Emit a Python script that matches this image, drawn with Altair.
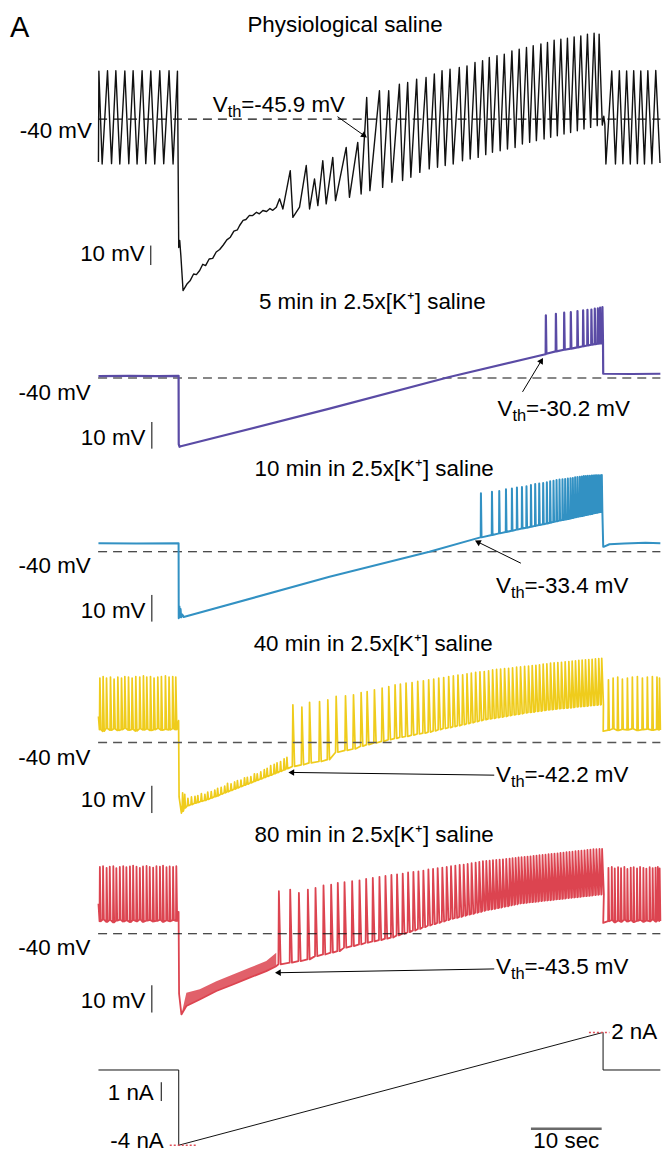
import altair as alt
import pandas as pd

FONT = "Liberation Sans"
FS = 22.4
X_DOMAIN = [-24.14, 68.19]          # seconds (0 = start of the current ramp)
PANEL_W = 654

BLACK, PURPLE, BLUE, YELLOW, RED = "#111111", "#5a4ba5", "#3291c3", "#efcc1c", "#dc4450"

# ---------------- Trace 1: physiological saline (mV) ----------------
P1_PRE_T = [-11.35, -11.29, -10.83, -10.07, -9.50, -8.89, -8.33, -7.62, -7.06, -6.45,
            -5.89, -5.18, -4.66, -3.95, -3.39, -2.68, -2.12, -1.37, -0.80, -0.18]
P1_PRE_V = [-62.0, -15.3, -63.0, -15.1, -62.8, -15.1, -63.0, -15.2, -62.9, -15.1,
            -63.0, -15.1, -62.8, -15.2, -63.0, -15.1, -62.9, -15.1, -63.0, -15.3]
P1_HYP_T = [0.00, 0.14, 0.30, 0.61, 1.2, 1.6, 2.1, 2.5, 2.96, 3.4, 3.8, 4.3, 4.8, 5.3, 5.79,
            6.3, 6.8, 7.3, 7.8, 8.3, 8.61, 9.1, 9.5, 10.0, 10.45, 11.0, 11.4, 11.9, 12.42,
            12.9, 13.3, 13.8]
P1_HYP_V = [-105.9, -102.3, -110.0, -128.0, -124.5, -123.0, -119.5, -119.8, -117.7, -114.5,
            -115.2, -111.8, -111.5, -108.2, -106.9, -104.6, -102.0, -100.6, -97.5, -96.8,
            -94.6, -92.0, -91.5, -89.4, -89.5, -87.8, -88.6, -86.9, -87.4, -85.9, -86.8, -85.2]
P1_SUB_T = [14.26, 14.73, 15.77, 16.14, 17.08, 18.03, 18.50, 19.20, 19.67, 20.37, 20.85,
            21.78, 22.17, 23.68, 24.14, 25.31, 25.79]
P1_SUB_V = [-80.9, -86.1, -66.4, -90.4, -85.2, -63.8, -86.1, -70.7, -84.4, -61.3, -83.5,
            -59.6, -81.8, -54.5, -80.1, -51.9, -78.4]
P1_SPK_T = [26.58, 28.38, 29.69, 31.20, 32.37, 33.64, 34.97, 36.14, 37.23, 38.36, 39.67,
            40.76, 41.89, 42.96, 43.91, 45.00, 46.03, 47.11, 48.14, 49.17, 50.12, 51.21,
            52.14, 53.08, 54.03, 54.96, 55.91, 56.85, 57.79, 58.73, 59.44]
P1_SPK_PEAK = [-28.8, -25.4, -25.4, -22.0, -21.1, -19.4, -18.6, -16.8, -15.1, -14.3, -13.4,
               -12.6, -10.9, -10.0, -8.3, -7.4, -6.6, -4.9, -4.0, -3.2, -2.3, -1.4, -0.6,
               0.6, 1.1, 1.6, 2.3, 2.8, 3.7, 4.2, 3.7]
P1_SPK_TROUGH = [-76.7, -75.0, -72.4, -71.5, -69.8, -67.3, -65.5, -64.7, -63.8, -63.0, -61.3,
                 -60.4, -59.6, -58.2, -57.0, -56.2, -55.3, -54.5, -52.7, -51.9, -51.0, -50.2,
                 -49.3, -48.5, -47.6, -46.8, -45.9, -45.0, -44.2, -43.3, -43.0]
P1_POST_T = [60.10, 60.25, 60.40, 61.23, 61.75, 62.30, 62.80, 63.33, 63.85, 64.33, 64.85,
             65.33, 65.85, 66.33, 66.90, 67.45, 68.05]
P1_POST_V = [-38.5, -42.5, -63.0, -15.2, -63.0, -15.1, -62.9, -15.2, -63.0, -15.1, -62.8,
             -15.2, -63.0, -15.1, -62.9, -15.0, -62.5]

# ---------------- Trace 2: 5 min in 2.5x[K+] (mV) ----------------
P2_PRE_T = [-11.35, -7.0, -3.0, -0.02]
P2_PRE_V = [-39.3, -39.2, -39.3, -39.2]
P2_RAMP_T = [0.00, 0.12, 0.30, 21.32, 38.26, 51.85]
P2_RAMP_V = [-64.8, -65.8, -65.6, -51.5, -39.6, -31.1]
P2_SPK_T = [51.91, 53.33, 54.50, 55.44, 56.38, 57.18, 57.79, 58.35, 58.83, 59.26, 59.58, 59.91]
P2_SPK_PEAK = [-16.5, -15.9, -15.5, -15.3, -14.9, -14.6, -14.4, -14.3, -14.0, -13.9, -13.6, -13.4]
P2_SPK_TROUGH = [-30.9, -30.0, -29.4, -29.0, -28.5, -28.1, -27.8, -27.5, -27.3, -27.1, -27.0, -26.9]
P2_POST_T = [60.02, 64.0, 68.1]
P2_POST_V = [-38.4, -38.5, -38.4]

# ---------------- Trace 3: 10 min in 2.5x[K+] (mV) ----------------
P3_PRE_T = [-11.35, -6.0, -0.02]
P3_PRE_V = [-36.85, -36.9, -36.85]
P3_RAMP_T = [0.00, 0.10, 0.18, 0.26, 0.35, 0.50, 0.70, 21.32, 35.44, 42.65]
P3_RAMP_V = [-64.9, -60.5, -64.5, -61.5, -64.6, -63.5, -64.5, -49.4, -40.0, -34.6]
P3_SPK_T = [42.73, 44.29, 45.32, 46.27, 47.11, 47.82, 48.53, 49.17, 49.80, 50.40, 50.97,
            51.53, 52.05, 52.52, 52.99, 53.42, 53.84, 54.26, 54.64, 55.02, 55.39, 55.72,
            56.05, 56.38, 56.71, 57.00, 57.28, 57.56, 57.84, 58.13, 58.41, 58.64, 58.87,
            59.11, 59.34, 59.58, 59.82]
P3_SPK_PEAK = [-18.1, -17.5, -17.2, -16.6, -16.3, -15.9, -15.7, -15.4, -15.0, -14.6, -14.4,
               -14.2, -13.9, -13.6, -13.4, -13.1, -12.9, -12.8, -12.7, -12.5, -12.4, -12.3,
               -12.1, -12.0, -11.9, -11.8, -11.6, -11.6, -11.5, -11.5, -11.4, -11.4, -11.3,
               -11.3, -11.3, -11.3, -11.2]
P3_SPK_TROUGH = [-34.6, -33.7, -33.1, -32.6, -32.1, -31.7, -31.3, -31.0, -30.6, -30.3, -30.0,
                 -29.7, -29.4, -29.1, -28.8, -28.6, -28.3, -28.1, -27.9, -27.7, -27.5, -27.3,
                 -27.1, -26.9, -26.7, -26.6, -26.4, -26.2, -26.1, -25.9, -25.8, -25.6, -25.5,
                 -25.4, -25.2, -25.1, -25.0]
P3_POST_T = [60.02, 60.15, 60.9, 63.0, 66.0, 68.1]
P3_POST_V = [-38.1, -38.1, -37.2, -36.9, -36.6, -36.8]

# ---------------- Trace 4: 40 min in 2.5x[K+] (mV) ----------------
P4_START_T, P4_START_V = [-11.35], [-30.5]
P4_PRE_T = [-11.15, -10.69, -10.21, -9.65, -9.14, -8.61, -8.09, -7.62, -7.10, -6.59, -6.07,
            -5.51, -4.99, -4.52, -3.99, -3.49, -2.96, -2.45, -1.88, -1.37, -0.85, -0.42]
P4_PRE_PEAK = [-16.4, -15.8, -16.4, -16.0, -16.8, -16.0, -16.4, -15.8, -16.0, -16.4, -15.8,
               -16.0, -15.6, -16.0, -15.8, -16.4, -16.0, -15.8, -15.6, -16.0, -15.8, -16.0]
P4_PRE_TROUGH = [-35.3, -35.9, -34.9, -35.5, -35.0, -35.6, -35.3, -34.8, -35.5, -35.2, -35.8,
                 -35.0, -35.4, -35.1, -35.6, -35.3, -34.9, -35.5, -35.2, -35.4, -35.0, -35.3]
P4_STEP_T = [-0.02, 0.05, 0.38]
P4_STEP_V = [-32.0, -60.0, -65.9]
P4_NZ_T = [0.55, 0.85, 1.3, 1.8, 2.3, 2.7, 3.2, 3.7, 4.1, 4.6, 5.1, 5.5, 6.0, 6.5, 6.9, 7.4,
           7.9, 8.3, 8.8, 9.3, 9.7, 10.2, 10.7, 11.1, 11.6, 12.1, 12.5, 13.0, 13.5, 13.9,
           14.4, 14.9, 15.3]
P4_NZ_TOP = [-58.5, -59.0, -60.5, -60.0, -59.8, -59.5, -58.8, -59.0, -58.2, -58.0, -57.5,
             -56.8, -56.5, -56.0, -55.0, -55.2, -54.5, -54.0, -53.8, -53.0, -52.8, -52.5,
             -51.5, -51.5, -50.8, -50.0, -49.5, -48.5, -48.0, -47.5, -47.0, -46.0, -45.5]
P4_NZ_BOT = [-65.2, -64.0, -63.2, -62.8, -62.3, -62.0, -61.6, -61.3, -60.9, -60.4, -59.9,
             -59.6, -59.0, -58.5, -58.1, -57.6, -57.1, -56.7, -56.2, -55.7, -55.3, -54.8,
             -54.3, -53.9, -53.4, -52.9, -52.5, -52.0, -51.5, -51.1, -50.6, -50.1, -49.6]
P4_SPK_T = [16.14, 17.41, 18.50, 19.91, 21.08, 22.26, 23.58, 24.71, 25.79, 26.64, 27.67,
            28.76, 29.70, 30.59, 31.34, 32.14, 32.99, 33.79, 34.59, 35.34, 36.05, 36.76,
            37.46, 38.17, 38.83, 39.48, 40.14, 40.76, 41.37, 41.98, 42.59, 43.20, 43.81,
            44.38, 44.94, 45.51, 46.07, 46.64, 47.20, 47.77, 48.33, 48.90, 49.46, 49.98,
            50.50, 51.01, 51.53, 52.05, 52.57, 53.08, 53.60, 54.12, 54.64, 55.16, 55.63,
            56.10, 56.57, 57.04, 57.51, 57.98, 58.45, 58.92, 59.39, 59.81]
P4_SPK_PEAK = [-26.2, -27.0, -25.3, -25.0, -24.4, -23.1, -22.9, -22.5, -21.7, -21.3, -20.7,
               -20.1, -19.5, -18.9, -18.6, -18.2, -18.0, -17.6, -17.4, -17.0, -16.8, -16.4,
               -16.2, -15.8, -15.6, -15.3, -15.2, -14.8, -14.6, -14.3, -14.1, -14.0, -13.7,
               -13.4, -13.2, -13.1, -12.9, -12.8, -12.6, -12.4, -12.3, -12.1, -12.0, -11.8,
               -11.7, -11.5, -11.3, -11.2, -10.9, -10.8, -10.7, -10.6, -10.4, -10.3, -10.2,
               -10.1, -9.9, -9.8, -9.7, -9.6, -9.5, -9.3, -9.2, -9.1]
P4_SPK_TROUGH = [-48.8, -48.2, -47.5, -47.0, -46.3, -43.6, -42.9, -42.4, -41.4, -40.8, -40.2,
                 -39.6, -39.0, -38.5, -38.1, -37.8, -37.3, -36.9, -36.6, -36.2, -35.8, -35.3,
                 -34.9, -34.6, -34.2, -33.9, -33.5, -33.1, -32.8, -32.4, -32.0, -31.7, -31.4,
                 -31.2, -30.9, -30.7, -30.5, -30.2, -29.9, -29.7, -29.5, -29.2, -29.0, -28.9,
                 -28.6, -28.5, -28.3, -28.1, -28.0, -27.8, -27.6, -27.5, -27.4, -27.3, -27.2,
                 -27.0, -26.9, -26.8, -26.7, -26.5, -26.4, -26.3, -26.2, -26.1]
P4_STEP2_T, P4_STEP2_V = [60.02], [-35.9]
P4_POST_T = [60.76, 61.42, 62.07, 62.73, 63.44, 64.14, 64.85, 65.56, 66.26, 66.97, 67.62, 67.98]
P4_POST_PEAK = [-17.0, -16.4, -16.0, -16.8, -16.4, -16.0, -15.8, -16.4, -16.0, -15.8, -16.0, -16.4]
P4_POST_TROUGH = [-35.5, -35.0, -35.6, -35.2, -35.4, -35.0, -35.6, -35.3, -35.1, -35.5, -35.2, -35.4]

# ---------------- Trace 5: 80 min in 2.5x[K+] (mV) ----------------
P5_START_T, P5_START_V = [-11.35], [-29.0]
P5_PRE_T = [-11.15, -10.70, -10.20, -9.75, -9.25, -8.82, -8.33, -7.85, -7.40, -6.90, -6.45,
            -5.97, -5.50, -5.05, -4.55, -4.10, -3.62, -3.15, -2.66, -2.22, -1.73, -1.28,
            -0.80, -0.34]
P5_PRE_PEAK = [-15.5, -15.2, -15.8, -15.4, -15.2, -15.9, -15.5, -15.2, -15.6, -15.3, -15.0,
               -15.4, -15.8, -15.3, -15.1, -15.5, -15.7, -15.2, -15.4, -15.0, -15.6, -15.3,
               -15.5, -15.2]
P5_PRE_TROUGH = [-35.4, -34.8, -35.6, -35.0, -35.8, -35.2, -34.9, -35.5, -35.1, -35.7, -35.0,
                 -35.4, -34.8, -35.6, -35.2, -35.0, -35.5, -35.3, -34.9, -35.6, -35.1, -35.4,
                 -35.0, -35.3]
P5_STEP_T = [-0.02, 0.05, 0.38]
P5_STEP_V = [-32.0, -62.0, -69.6]
P5_NZ_T = [0.38, 1.08, 2.97, 5.32, 7.67, 10.02, 12.38, 13.79]
P5_NZ_LO = [-69.6, -66.5, -64.1, -61.0, -58.6, -56.1, -53.7, -51.9]
P5_NZ_HI = [-69.6, -61.6, -60.4, -57.4, -54.9, -52.5, -50.0, -47.0]
P5_SPK_T = [14.16, 15.76, 16.99, 18.26, 19.34, 20.47, 21.55, 22.49, 23.44, 24.52, 25.56,
            26.50, 27.44, 28.38, 29.23, 30.07, 30.87, 31.67, 32.43, 33.18, 33.89, 34.59,
            35.30, 35.96, 36.61, 37.27, 37.89, 38.50, 39.11, 39.72, 40.29, 40.85, 41.41,
            41.98, 42.50, 43.01, 43.49, 43.96, 44.43, 44.90, 45.37, 45.84, 46.31, 46.78,
            47.20, 47.63, 48.05, 48.47, 48.90, 49.32, 49.74, 50.17, 50.59, 51.01, 51.44,
            51.86, 52.29, 52.71, 53.13, 53.56, 53.98, 54.40, 54.83, 55.25, 55.67, 56.10,
            56.52, 56.94, 57.37, 57.79, 58.21, 58.64, 59.06, 59.49, 59.86]
P5_SPK_PEAK = [-24.4, -23.8, -25.0, -23.8, -23.2, -22.3, -22.0, -21.3, -21.1, -20.7, -20.4,
               -19.9, -19.5, -19.1, -18.8, -18.4, -18.2, -17.9, -17.5, -17.3, -17.1, -16.8,
               -16.4, -16.2, -15.9, -15.7, -15.5, -15.2, -15.0, -14.7, -14.6, -14.4, -14.1,
               -13.9, -13.6, -13.4, -13.3, -13.2, -13.0, -12.9, -12.8, -12.7, -12.5, -12.4,
               -12.3, -12.2, -12.0, -11.9, -11.8, -11.7, -11.6, -11.4, -11.3, -11.2, -11.1,
               -11.0, -10.8, -10.7, -10.6, -10.5, -10.3, -10.2, -10.1, -10.0, -9.9, -9.7,
               -9.6, -9.5, -9.4, -9.2, -9.1, -9.0, -9.0, -8.9, -8.9]
P5_SPK_TROUGH = [-51.2, -50.6, -50.0, -49.4, -48.2, -47.6, -46.9, -46.4, -45.1, -44.5, -43.9,
                 -43.3, -42.8, -42.3, -41.8, -41.4, -40.6, -40.0, -39.4, -38.8, -38.2, -37.6,
                 -37.0, -36.5, -36.0, -35.5, -35.0, -34.5, -34.2, -33.8, -33.4, -33.0, -32.7,
                 -32.3, -32.0, -31.6, -31.3, -31.1, -30.9, -30.6, -30.4, -30.1, -29.9, -29.6,
                 -29.4, -29.2, -28.9, -28.8, -28.7, -28.5, -28.4, -28.3, -28.2, -28.0, -27.9,
                 -27.8, -27.7, -27.6, -27.4, -27.3, -27.2, -27.1, -26.9, -26.8, -26.7, -26.6,
                 -26.5, -26.3, -26.2, -26.1, -26.0, -25.8, -25.7, -25.6, -25.5]
P5_STEP2_T, P5_STEP2_V = [60.02], [-36.0]
P5_POST_T = [60.76, 61.23, 61.65, 62.12, 62.54, 63.01, 63.44, 63.91, 64.33, 64.80, 65.23,
             65.70, 66.12, 66.59, 67.01, 67.42, 67.74, 68.0]
P5_POST_PEAK = [-15.8, -15.5, -16.0, -15.6, -15.9, -15.5, -16.2, -15.7, -15.6, -16.0, -15.5,
                -15.8, -16.1, -15.6, -15.9, -15.7, -15.5, -16.0]
P5_POST_TROUGH = [-35.4, -35.0, -35.8, -35.2, -35.6, -34.9, -35.5, -35.1, -35.7, -35.3, -35.0,
                  -35.6, -35.2, -35.4, -34.8, -35.5, -35.1, -35.3]

# ---------------- Injected current (nA) ----------------
CUR_T = [-11.35, 0.0, 0.0, 60.0, 60.0, 68.1]
CUR_I = [0.0, 0.0, -4.0, 2.0, 0.0, 0.0]


# ---------------- helpers ----------------
def spikes(ts, peaks, troughs, d1, d2):
    tt, vv = [], []
    for t, p, r in zip(ts, peaks, troughs):
        if d1 > 0:
            tt.append(round(t - d1, 3))
            vv.append(r)
        tt.append(t)
        vv.append(p)
        tt.append(round(t + d2, 3))
        vv.append(r)
    return tt, vv


def build(*segs):
    T, V = [], []
    for t, v in segs:
        T += list(t)
        V += list(v)
    return pd.DataFrame({"t": T, "v": V, "i": list(range(len(T)))})


XS = alt.Scale(domain=X_DOMAIN, nice=False, zero=False)


def X(f="t"):
    return alt.X(f + ":Q", scale=XS, axis=None)


def Y(ys, f="v"):
    return alt.Y(f + ":Q", scale=ys, axis=None)


def one(**cols):
    return pd.DataFrame({k: [v] for k, v in cols.items()})


def trace(df, ys, color, width):
    return alt.Chart(df).mark_line(color=color, strokeWidth=width, strokeJoin="round").encode(
        x=X(), y=Y(ys), order="i:Q")


def text(ys, t, v, s, size=FS, align="left", dx=0, dy=0, baseline="middle"):
    return alt.Chart(one(t=t, v=v, s=s)).mark_text(
        font=FONT, fontSize=size, align=align, baseline=baseline, dx=dx, dy=dy, color="black"
    ).encode(x=X(), y=Y(ys), text="s:N")


def hline(ys, t1, t2, v, dash=None, color="black", width=1.0):
    kw = dict(color=color, strokeWidth=width)
    if dash:
        kw["strokeDash"] = dash
    return alt.Chart(one(t=t1, t2=t2, v=v)).mark_rule(**kw).encode(x=X(), x2="t2:Q", y=Y(ys))


def vbar(ys, t, v1, v2, color="black", width=1.0):
    return alt.Chart(one(t=t, v=v1, v2=v2)).mark_rule(color=color, strokeWidth=width).encode(
        x=X(), y=Y(ys), y2="v2:Q")


def arrow(ys, t0, v0, t1, v1, angle):
    line = alt.Chart(one(t=t0, v=v0, t2=t1, v2=v1)).mark_rule(color="black", strokeWidth=1).encode(
        x=X(), x2="t2:Q", y=Y(ys), y2="v2:Q")
    head = alt.Chart(one(t=t1, v=v1)).mark_point(
        shape="triangle-right", angle=angle, size=45, filled=True, color="black", opacity=1
    ).encode(x=X(), y=Y(ys))
    return [line, head]


def vth(ys, t, v, value):
    return [text(ys, t, v, "V"),
            text(ys, t, v, "th", size=16.5, dx=15.0, dy=7),
            text(ys, t, v, "=" + value, dx=28.6)]


def panel(layers, height):
    return alt.layer(*layers).properties(width=PANEL_W, height=height)


DASH = [9, 6]
T_END = 68.1

# ---------------- panel 1 ----------------
ys1 = alt.Scale(domain=[-130.0, 16.67], nice=False, zero=False)
df1 = build((P1_PRE_T, P1_PRE_V), (P1_HYP_T, P1_HYP_V), (P1_SUB_T, P1_SUB_V),
            spikes(P1_SPK_T, P1_SPK_PEAK, P1_SPK_TROUGH, 0, 0.45), (P1_POST_T, P1_POST_V))
p1 = panel([
    hline(ys1, -11.4, T_END, -40, dash=DASH, color="#111111", width=1.2),
    trace(df1, ys1, BLACK, 1.4),
    text(ys1, -23.85, 14.1, "A", size=29, baseline="top"),
    text(ys1, 23.51, 13.8, "Physiological saline", align="center", baseline="top"),
    text(ys1, -12.28, -46.3, "-40 mV", align="right"),
    text(ys1, -4.80, -109.1, "10 mV", align="right"),
    vbar(ys1, -3.95, -104.9, -114.9),
    *vth(ys1, 4.80, -32.7, "-45.9 mV"),
    *arrow(ys1, 22.45, -38.7, 26.26, -48.5, 35),
], 286)

# ---------------- panel 2 ----------------
ys2 = alt.Scale(domain=[-70.07, -8.65], nice=False, zero=False)
df2 = build((P2_PRE_T, P2_PRE_V), (P2_RAMP_T, P2_RAMP_V),
            spikes(P2_SPK_T, P2_SPK_PEAK, P2_SPK_TROUGH, 0.03, 0.08), (P2_POST_T, P2_POST_V))
p2 = panel([
    hline(ys2, -11.4, T_END, -40, dash=DASH, color="#111111", width=1.2),
    trace(df2, ys2, PURPLE, 2.2),
    text(ys2, 11.34, -11.5, "5 min in 2.5x[K\u207a] saline"),
    text(ys2, -12.45, -45.5, "-40 mV", align="right"),
    text(ys2, -4.70, -62.4, "10 mV", align="right"),
    vbar(ys2, -3.8, -56.5, -66.5),
    *vth(ys2, 45.08, -51.5, "-30.2 mV"),
    *arrow(ys2, 48.61, -45.2, 51.29, -33.4, 301),
], 164)

# ---------------- panel 3 ----------------
ys3 = alt.Scale(domain=[-70.07, -4.91], nice=False, zero=False)
df3 = build((P3_PRE_T, P3_PRE_V), (P3_RAMP_T, P3_RAMP_V),
            spikes(P3_SPK_T, P3_SPK_PEAK, P3_SPK_TROUGH, 0.03, 0.08), (P3_POST_T, P3_POST_V))
p3 = panel([
    hline(ys3, -11.4, T_END, -40, dash=DASH, color="#111111", width=1.2),
    trace(df3, ys3, BLUE, 2.0),
    text(ys3, 10.73, -9.1, "10 min in 2.5x[K\u207a] saline"),
    text(ys3, -12.45, -45.3, "-40 mV", align="right"),
    text(ys3, -4.70, -62.1, "10 mV", align="right"),
    vbar(ys3, -3.8, -56.2, -66.2),
    *vth(ys3, 44.86, -52.8, "-33.4 mV"),
    *arrow(ys3, 48.38, -44.3, 42.26, -36.3, 206),
], 174)

# ---------------- panel 4 ----------------
ys4 = alt.Scale(domain=[-69.05, 0.55], nice=False, zero=False)
df4 = build((P4_START_T, P4_START_V),
            spikes(P4_PRE_T, P4_PRE_PEAK, P4_PRE_TROUGH, 0.06, 0.15),
            (P4_STEP_T, P4_STEP_V),
            spikes(P4_NZ_T, P4_NZ_TOP, P4_NZ_BOT, 0.08, 0.10),
            spikes(P4_SPK_T, P4_SPK_PEAK, P4_SPK_TROUGH, 0.08, 0.24),
            (P4_STEP2_T, P4_STEP2_V),
            spikes(P4_POST_T, P4_POST_PEAK, P4_POST_TROUGH, 0.06, 0.12))
p4 = panel([
    trace(df4, ys4, YELLOW, 1.7),
    hline(ys4, -11.4, T_END, -40, dash=DASH, color="#555555", width=1.5),
    text(ys4, 10.59, -3.9, "40 min in 2.5x[K\u207a] saline"),
    text(ys4, -12.5, -45.7, "-40 mV", align="right"),
    text(ys4, -4.70, -61.3, "10 mV", align="right"),
    vbar(ys4, -3.8, -55.9, -65.9),
    *vth(ys4, 44.86, -52.1, "-42.2 mV"),
    *arrow(ys4, 44.61, -52.0, 15.91, -51.0, 181),
], 190)

# ---------------- panel 5 ----------------
ys5 = alt.Scale(domain=[-70.66, 1.14], nice=False, zero=False)
df5 = build((P5_START_T, P5_START_V),
            spikes(P5_PRE_T, P5_PRE_PEAK, P5_PRE_TROUGH, 0.05, 0.12),
            (P5_STEP_T, P5_STEP_V),
            (P5_NZ_T, P5_NZ_LO),
            spikes(P5_SPK_T, P5_SPK_PEAK, P5_SPK_TROUGH, 0.07, 0.25),
            (P5_STEP2_T, P5_STEP2_V),
            spikes(P5_POST_T, P5_POST_PEAK, P5_POST_TROUGH, 0.05, 0.1))
noise5 = pd.DataFrame({"t": P5_NZ_T, "v": P5_NZ_LO, "v2": P5_NZ_HI})
p5 = panel([
    alt.Chart(noise5).mark_area(color=RED, opacity=0.85).encode(x=X(), y=Y(ys5), y2="v2:Q"),
    trace(df5, ys5, RED, 1.8),
    hline(ys5, -11.4, T_END, -40, dash=DASH, color="#111111", width=1.2),
    text(ys5, 10.73, -3.9, "80 min in 2.5x[K\u207a] saline"),
    text(ys5, -12.5, -45.1, "-40 mV", align="right"),
    text(ys5, -4.70, -64.5, "10 mV", align="right"),
    vbar(ys5, -3.8, -58.9, -68.9),
    *vth(ys5, 44.86, -52.2, "-43.5 mV"),
    *arrow(ys5, 44.61, -52.9, 14.02, -54.3, 179),
], 196)

# ---------------- panel 6: current ----------------
ys6 = alt.Scale(domain=[-4.42, 2.80], nice=False, zero=False)
df6 = pd.DataFrame({"t": CUR_T, "v": CUR_I, "i": list(range(len(CUR_T)))})
p6 = panel([
    trace(df6, ys6, BLACK, 1.0),
    hline(ys6, -1.27, 2.4, -4.0, dash=[2, 2], color="#e0505a", width=1.5),
    hline(ys6, 58.0, 60.9, 2.0, dash=[2, 2], color="#e0505a", width=1.5),
    text(ys6, -2.12, -3.75, "-4 nA", align="right"),
    text(ys6, 61.15, 2.0, "2 nA"),
    text(ys6, -3.53, -1.24, "1 nA", align="right"),
    vbar(ys6, -2.47, -0.65, -1.65),
    hline(ys6, 49.8, 59.8, -3.12, color="#6a6a6a", width=2.5),
    text(ys6, 54.8, -3.75, "10 sec", align="center"),
], 136)

chart = alt.vconcat(
    p1, p2, p3, p4, p5, p6,
    spacing=0, bounds="flush", padding=0,
).configure_view(stroke=None)

chart.save("out.html", embed_options={"renderer": "svg", "actions": False})
